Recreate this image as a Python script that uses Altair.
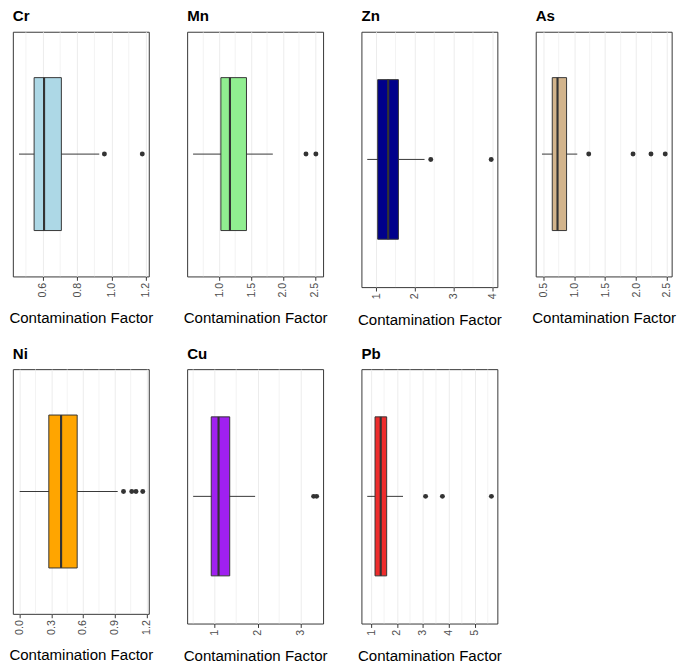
import altair as alt
import pandas as pd

# ---- data ----
elements = ["Cr", "Mn", "Zn", "As", "Ni", "Cu", "Pb"]
fill_colors = ["#ADD8E6", "#90EE90", "#00008B", "#D2B48C", "#FFA500", "#A020F0", "#EE2C2C"]

whisker_low = [0.46, 0.59, 0.77, 0.48, 0.00, 0.50, 0.85]
q1 = [0.548, 1.026, 1.04, 0.646, 0.276, 0.92, 1.15]
median = [0.606, 1.168, 1.31, 0.731, 0.392, 1.09, 1.37]
q3 = [0.707, 1.427, 1.575, 0.877, 0.544, 1.35, 1.60]
whisker_high = [0.928, 1.84, 2.25, 1.05, 0.927, 1.94, 2.23]
outliers = [
    [0.958, 1.179],
    [2.36, 2.515],
    [2.41, 3.97],
    [1.235, 1.95, 2.24, 2.47],
    [0.982, 1.06, 1.10, 1.164],
    [3.30, 3.37],
    [3.10, 3.75, 5.64],
]

major_ticks = [
    [0.6, 0.8, 1.0, 1.2],
    [1.0, 1.5, 2.0, 2.5],
    [1, 2, 3, 4],
    [0.5, 1.0, 1.5, 2.0, 2.5],
    [0.0, 0.3, 0.6, 0.9, 1.2],
    [1, 2, 3],
    [1, 2, 3, 4, 5],
]
minor_grid = [
    [0.5, 0.7, 0.9, 1.1],
    [0.75, 1.25, 1.75, 2.25],
    [1.5, 2.5, 3.5],
    [0.75, 1.25, 1.75, 2.25],
    [0.15, 0.45, 0.75, 1.05],
    [0.5, 1.5, 2.5],
    [1.5, 2.5, 3.5, 4.5, 5.5],
]
tick_formats = [".1f", ".1f", "d", ".1f", ".1f", "d", "d"]
x_domains = [
    [0.424, 1.217],
    [0.497, 2.628],
    [0.62, 4.13],
    [0.379, 2.574],
    [-0.064, 1.221],
    [0.36, 3.52],
    [0.626, 5.87],
]
panel_heights = [252, 252, 263, 252, 252, 262, 262]

FONT = "Liberation Sans"
DARK = "#333333"


def panel(i):
    box_df = pd.DataFrame({
        "lo": [whisker_low[i]], "q1": [q1[i]], "med": [median[i]],
        "q3": [q3[i]], "hi": [whisker_high[i]],
        "y0": [0.625], "y1": [1.375], "yc": [1.0],
    })
    out_df = pd.DataFrame({"v": outliers[i], "yc": [1.0] * len(outliers[i])})
    minor_df = pd.DataFrame({"m": minor_grid[i]})

    xscale = alt.Scale(domain=x_domains[i], nice=False, zero=False)
    yscale = alt.Scale(domain=[0.4, 1.6], nice=False, zero=False)
    xaxis = alt.Axis(
        values=major_ticks[i], format=tick_formats[i], grid=True,
        gridColor="#EBEBEB", gridWidth=1, domain=False,
        labelAngle=270, labelAlign="right", labelBaseline="middle",
        labelFontSize=11, labelColor="#4D4D4D", labelFont=FONT,
        labelFlush=False, labelOverlap=False, labelPadding=2,
        tickColor=DARK, tickSize=4, tickWidth=1,
        title="Contamination Factor", titleFont=FONT, titleFontSize=15.5,
        titleFontWeight="normal", titleColor="black", titlePadding=14,
    )

    def X(field):
        return alt.X(field, scale=xscale, axis=xaxis)

    grid = alt.Chart(minor_df).mark_rule(color="#EBEBEB", strokeWidth=0.6).encode(
        x=X("m:Q")
    )
    whisker = alt.Chart(box_df).mark_rule(color=DARK, strokeWidth=1).encode(
        x=X("lo:Q"), x2="hi:Q",
        y=alt.Y("yc:Q", scale=yscale, axis=None),
    )
    box = alt.Chart(box_df).mark_rect(
        fill=fill_colors[i], stroke=DARK, strokeWidth=1
    ).encode(
        x=X("q1:Q"), x2="q3:Q",
        y=alt.Y("y0:Q", scale=yscale, axis=None), y2="y1:Q",
    )
    med = alt.Chart(box_df).mark_rule(color=DARK, strokeWidth=2.2).encode(
        x=X("med:Q"),
        y=alt.Y("y0:Q", scale=yscale, axis=None), y2="y1:Q",
    )
    pts = alt.Chart(out_df).mark_circle(color=DARK, size=26, opacity=1).encode(
        x=X("v:Q"),
        y=alt.Y("yc:Q", scale=yscale, axis=None),
    )
    return alt.layer(grid, whisker, box, med, pts).properties(
        width=140, height=panel_heights[i],
        view=alt.ViewBackground(stroke=DARK, strokeWidth=1, fill="white"),
        title=alt.TitleParams(
            text=elements[i], anchor="start", frame="group", font=FONT,
            fontSize=15.5, fontWeight="bold", color="black", offset=7,
        ),
    )


row1 = alt.hconcat(*[panel(i) for i in range(4)], spacing=39.5, bounds="flush")
row2 = alt.hconcat(*[panel(i) for i in range(4, 7)], spacing=39.5, bounds="flush")

chart = alt.vconcat(row1, row2, spacing=17.5).properties(
    padding={"left": 0, "top": -9.5, "right": 0, "bottom": 0}
).configure_view(
    stroke=DARK, strokeWidth=1
).configure(font=FONT, background="white")

chart.save("out.html", embed_options={"renderer": "svg", "actions": False})
